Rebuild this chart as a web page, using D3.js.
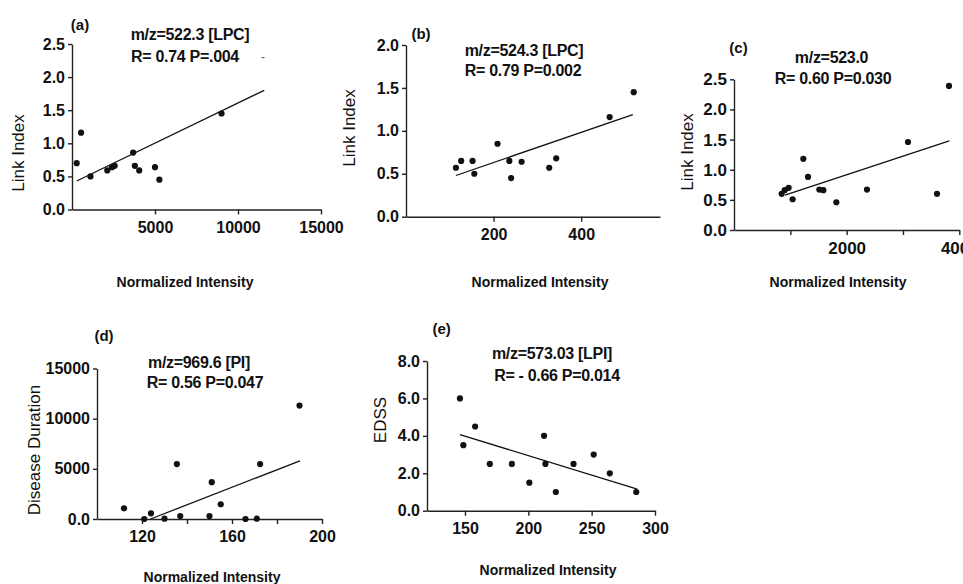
<!DOCTYPE html>
<html>
<head>
<meta charset="utf-8">
<script src="https://cdn.jsdelivr.net/npm/d3@7"></script>
<style>
  body { margin: 0; background: #fff; }
  svg { display: block; font-family: "Liberation Sans", Arial, sans-serif; }
  .tick text { font-weight: bold; fill: #111; }
  .domain, .tick line { stroke: #222; stroke-width: 1.4; }
</style>
</head>
<body>
<svg id="chart" width="963" height="584"></svg>
<script>
// ---- data ----

// (a) m/z=522.3 [LPC] vs Link Index
const aX = [283, 547, 1113, 2126, 2409, 2571, 3684, 3785, 4049, 5000, 5263, 9008];
const aY = [0.70, 1.16, 0.50, 0.59, 0.64, 0.66, 0.86, 0.66, 0.59, 0.64, 0.45, 1.45];
const aFit = [[283, 0.43], [11580, 1.80]];

// (b) m/z=524.3 [LPC] vs Link Index
const bX = [114, 126, 152, 156, 209, 236, 240, 264, 327, 343, 465, 520];
const bY = [0.57, 0.65, 0.65, 0.50, 0.85, 0.65, 0.45, 0.64, 0.57, 0.68, 1.16, 1.45];
const bFit = [[114, 0.48], [518, 1.19]];

// (c) m/z=523.0 vs Link Index
const cX = [846, 900, 970, 1041, 1231, 1314, 1515, 1586, 1817, 2361, 3089, 3604, 3817];
const cY = [0.60, 0.66, 0.70, 0.51, 1.18, 0.88, 0.67, 0.66, 0.46, 0.67, 1.46, 0.60, 2.39];
const cFit = [[905, 0.58], [3822, 1.48]];

// (d) m/z=969.6 [PI] vs Disease Duration
const dX = [112, 121, 124, 130, 135.5, 137, 150, 151, 155, 166, 171, 172.5, 190];
const dY = [1070, 0, 570, 30, 5470, 300, 300, 3670, 1470, 0, 30, 5470, 11300];
const dFit = [[123.8, 0], [190.2, 5800]];

// (e) m/z=573.03 [LPI] vs EDSS
const eX = [146, 148.7, 158, 169.6, 187, 200.8, 212.4, 213.5, 221.7, 235.7, 251.6, 264.3, 285.2];
const eY = [6.0, 3.5, 4.5, 2.5, 2.5, 1.5, 4.0, 2.5, 1.0, 2.5, 3.0, 2.0, 1.0];
const eFit = [[146, 4.07], [286, 1.15]];

// axis ranges and ticks
const aXDomain = [0, 15000], aYDomain = [0, 2.5];
const aXTicks = [5000, 10000, 15000], aXLabels = [5000, 10000, 15000];
const aYTicks = [0, 0.5, 1.0, 1.5, 2.0, 2.5];

const bXDomain = [0, 580], bYDomain = [0, 2.0];
const bXTicks = [200, 400], bXLabels = [200, 400];
const bYTicks = [0, 0.5, 1.0, 1.5, 2.0];

const cXDomain = [0, 4000], cYDomain = [0, 2.5];
const cXTicks = [1000, 2000, 3000, 4000], cXLabels = [2000, 4000];
const cYTicks = [0, 0.5, 1.0, 1.5, 2.0, 2.5];

const dXDomain = [100, 200], dYDomain = [0, 15000];
const dXTicks = [120, 140, 160, 180, 200], dXLabels = [120, 160, 200];
const dYTicks = [0, 5000, 10000, 15000];

const eXDomain = [120, 300], eYDomain = [0, 8];
const eXTicks = [150, 200, 250, 300], eXLabels = [150, 200, 250, 300];
const eYTicks = [0, 2, 4, 6, 8];

// text
const letters = ["(a)", "(b)", "(c)", "(d)", "(e)"];
const titles = ["m/z=522.3 [LPC]", "m/z=524.3 [LPC]", "m/z=523.0", "m/z=969.6 [PI]", "m/z=573.03 [LPI]"];
const stats = ["R= 0.74 P=.004", "R= 0.79 P=0.002", "R= 0.60 P=0.030", "R= 0.56 P=0.047", "R= - 0.66 P=0.014"];
const yTitles = ["Link Index", "Link Index", "Link Index", "Disease Duration", "EDSS"];
const xTitle = "Normalized Intensity";

// ---- layout (pixels) ----
const panels = [
  { xs: aX, ys: aY, fit: aFit, xd: aXDomain, yd: aYDomain, xt: aXTicks, xl: aXLabels, yt: aYTicks, yf: d3.format(".1f"),
    px: [72, 321], py: [209.5, 44], letter: [80, 24], title: [190, 34], stat: [185, 56], ylab: [18, 153], xlab: [185, 282], fs: 16 },
  { xs: bX, ys: bY, fit: bFit, xd: bXDomain, yd: bYDomain, xt: bXTicks, xl: bXLabels, yt: bYTicks, yf: d3.format(".1f"),
    px: [406, 660], py: [216.7, 45], letter: [421, 33], title: [524, 50], stat: [523, 70], ylab: [349, 128], xlab: [540, 282], fs: 16 },
  { xs: cX, ys: cY, fit: cFit, xd: cXDomain, yd: cYDomain, xt: cXTicks, xl: cXLabels, yt: cYTicks, yf: d3.format(".1f"),
    px: [734, 959.3], py: [230, 79.3], letter: [738.5, 47], title: [831.5, 57], stat: [833, 78], ylab: [687, 152], xlab: [838, 282], fs: 17 },
  { xs: dX, ys: dY, fit: dFit, xd: dXDomain, yd: dYDomain, xt: dXTicks, xl: dXLabels, yt: dYTicks, yf: d => d === 0 ? "0.0" : String(d),
    px: [97, 322], py: [519, 368.5], letter: [104, 335.5], title: [199, 362.7], stat: [205, 382.3], ylab: [34, 450], xlab: [212, 577], fs: 16 },
  { xs: eX, ys: eY, fit: eFit, xd: eXDomain, yd: eYDomain, xt: eXTicks, xl: eXLabels, yt: eYTicks, yf: d3.format(".1f"),
    px: [427, 655], py: [510.7, 361], letter: [441.7, 328.5], title: [552, 353.3], stat: [557, 375], ylab: [380, 420], xlab: [548, 570], fs: 16 }
];

const svg = d3.select("#chart");

panels.forEach(function(p, i) {
  let g = svg.append("g");
  let x = d3.scaleLinear().domain(p.xd).range(p.px);
  let y = d3.scaleLinear().domain(p.yd).range(p.py);

  // axes
  let xAxis = d3.axisBottom(x)
    .tickValues(p.xt)
    .tickSize(5).tickSizeOuter(0).tickPadding(7)
    .tickFormat(d => p.xl.includes(d) ? d : "");
  let yAxis = d3.axisLeft(y)
    .tickValues(p.yt)
    .tickSize(4).tickSizeOuter(0).tickPadding(3)
    .tickFormat(p.yf);

  g.append("g").attr("transform", `translate(0,${p.py[0]})`).call(xAxis)
    .selectAll("text").style("font-size", p.fs + "px");
  g.append("g").attr("transform", `translate(${p.px[0]},0)`).call(yAxis)
    .selectAll("text").style("font-size", p.fs + "px");

  // regression line
  g.append("line")
    .attr("x1", x(p.fit[0][0])).attr("y1", y(p.fit[0][1]))
    .attr("x2", x(p.fit[1][0])).attr("y2", y(p.fit[1][1]))
    .attr("stroke", "#111").attr("stroke-width", 1.3);

  // points
  g.selectAll("circle.pt")
    .data(p.xs.map((v, k) => [v, p.ys[k]]))
    .enter().append("circle")
    .attr("class", "pt")
    .attr("cx", d => x(d[0]))
    .attr("cy", d => y(d[1]))
    .attr("r", 3.1)
    .attr("fill", "#111");

  // labels
  let txt = (pos, s, size, weight) => g.append("text")
    .attr("x", pos[0]).attr("y", pos[1])
    .attr("text-anchor", "middle").attr("dominant-baseline", "central")
    .style("font-size", size + "px").style("font-weight", weight)
    .attr("fill", "#111").text(s);

  txt(p.letter, letters[i], 15, "bold");
  txt(p.title, titles[i], 16, "bold").style("letter-spacing", "-0.3px");
  txt(p.stat, stats[i], 16, "bold").style("letter-spacing", "-0.3px");
  txt(p.xlab, xTitle, 14, "bold");
  txt(p.ylab, yTitles[i], 17, "normal")
    .attr("transform", `rotate(-90,${p.ylab[0]},${p.ylab[1]})`);
});

// stray dash next to panel (a) statistics
svg.append("text").attr("x", 263).attr("y", 57)
  .attr("text-anchor", "middle").attr("dominant-baseline", "central")
  .style("font-size", "12px").attr("fill", "#555").text("-");
</script>
</body>
</html>
